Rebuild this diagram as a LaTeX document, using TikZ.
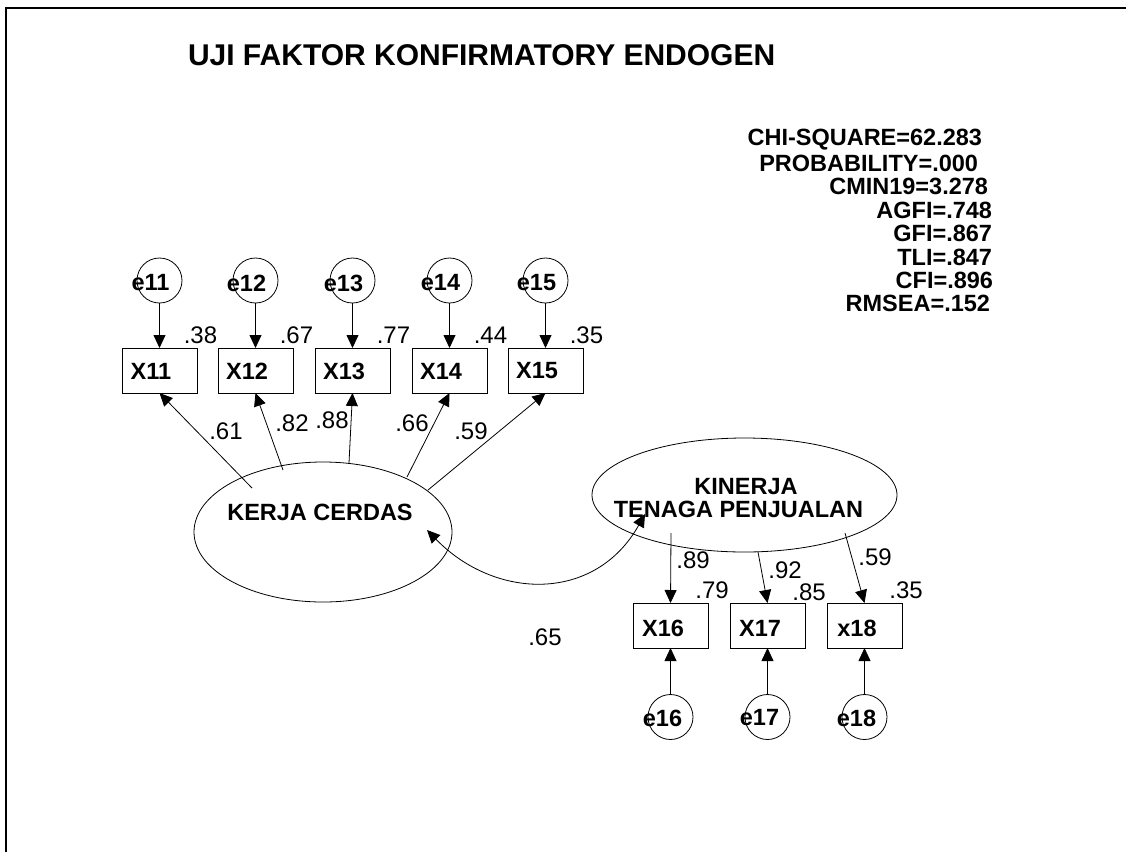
\documentclass[tikz,border=0pt]{standalone}
\usepackage{fontspec}
\setmainfont{Liberation Sans}
\usetikzlibrary{arrows.meta,shapes.geometric}
\begin{document}
\begin{tikzpicture}[x=1pt,y=-1pt,
  every node/.style={inner sep=0pt, outer sep=0pt},
  obs/.style={draw, line width=0.9pt, minimum width=75pt, minimum height=45pt},
  errc/.style={draw, circle, line width=0.8pt, minimum size=45pt},
  lat/.style={draw, ellipse, line width=0.8pt},
  vlab/.style={font=\fontsize{23.5}{27}\selectfont\bfseries},
  num/.style={font=\fontsize{24}{28}\selectfont},
  stat/.style={font=\fontsize{23.5}{27}\selectfont\bfseries, anchor=east},
  arr/.style={-{Triangle[length=13pt,width=12pt]}, line width=0.8pt},
  cov/.style={{Triangle[length=13pt,width=12pt]}-{Triangle[length=13pt,width=12pt]}, line width=0.8pt},
]
\useasboundingbox (0,0) rectangle (1126,852);
% frame
\coordinate (fa) at (6,852);
\coordinate (fb) at (6,8);
\coordinate (fc) at (1126,8);
\draw[line width=2pt] (fa) -- (fb) -- (fc);

% title
\node[font=\fontsize{30}{35}\selectfont\bfseries, anchor=west] (title) at (188,55) {UJI FAKTOR KONFIRMATORY ENDOGEN};

% fit statistics
\node[stat] (s1) at (982,140) {CHI-SQUARE=62.283};
\node[stat] (s2) at (978,163.4) {PROBABILITY=.000};
\node[stat] (s3) at (988,186.8) {CMIN19=3.278};
\node[stat] (s4) at (992,210.2) {AGFI=.748};
\node[stat] (s5) at (992,233.6) {GFI=.867};
\node[stat] (s6) at (992,257) {TLI=.847};
\node[stat] (s7) at (993,280.4) {CFI=.896};
\node[stat] (s8) at (990,303.8) {RMSEA=.152};

% upper indicators
\foreach \i/\x/\r in {11/159.5/.38, 12/255.5/.67, 13/352.5/.77, 14/449.5/.44, 15/545.5/.35}{
  \node[obs] (X\i) at (\x,370.5) {};
  \node[vlab] (tX\i) at (\x-8.5,371) {X\i};
  \node[errc] (e\i) at (\x,280.5) {};
  \node[vlab] (te\i) at (\x-9,283) {e\i};
  \draw[arr] (e\i) -- (X\i);
  \node[num] (r\i) at (\x+41,335) {\r};
}

% latent KERJA CERDAS
\node[lat, minimum width=258pt, minimum height=140pt] (kc) at (323,532) {};
\node[vlab] (tkc) at (320,512) {KERJA CERDAS};
\coordinate (k1) at (252,488);
\coordinate (k2) at (283,470);
\coordinate (k3) at (349,463);
\coordinate (k4) at (407,477);
\coordinate (k5) at (428,490);
\draw[arr] (k1) -- (X11.south);
\draw[arr] (k2) -- (X12.south);
\draw[arr] (k3) -- (X13.south);
\draw[arr] (k4) -- (X14.south);
\draw[arr] (k5) -- (X15.south);
\node[num] (l11) at (226,431) {.61};
\node[num] (l12) at (292,423) {.82};
\node[num] (l13) at (332,420) {.88};
\node[num] (l14) at (412,423) {.66};
\node[num] (l15) at (471,431) {.59};

% latent KINERJA TENAGA PENJUALAN
\node[lat, minimum width=305pt, minimum height=114pt] (kp) at (744.5,495) {};
\node[vlab] (tkp1) at (746,487) {KINERJA};
\node[vlab] (tkp2) at (738.5,509) {TENAGA PENJUALAN};

% lower indicators
\foreach \i/\n/\x in {16/X16/670.5, 17/X17/767.5, 18/x18/864.5}{
  \node[obs] (X\i) at (\x,625.5) {};
  \node[vlab] (tX\i) at (\x-7.5,628) {\n};
  \node[errc] (e\i) at (\x,717) {};
  \node[vlab] (te\i) at (\x-8,718) {e\i};
  \draw[arr] (e\i) -- (X\i);
}
\node[num] (r16) at (712,590) {.79};
\node[num] (r17) at (809,592) {.85};
\node[num] (r18) at (906,590) {.35};

\coordinate (p1) at (671,533);
\coordinate (p2) at (758,552);
\coordinate (p3) at (845,533);
\draw[arr] (p1) -- (X16.north);
\draw[arr] (p2) -- (X17.north);
\draw[arr] (p3) -- (X18.north);
\node[num] (l16) at (693,560) {.89};
\node[num] (l17) at (785,570) {.92};
\node[num] (l18) at (875,557) {.59};

% covariance
\coordinate (c1) at (427,530);
\coordinate (c2) at (645,514);
\draw[cov] (c1) .. controls (495,600) and (595,603) .. (c2);
\node[num] (lc) at (545,637) {.65};
\end{tikzpicture}
\end{document}
